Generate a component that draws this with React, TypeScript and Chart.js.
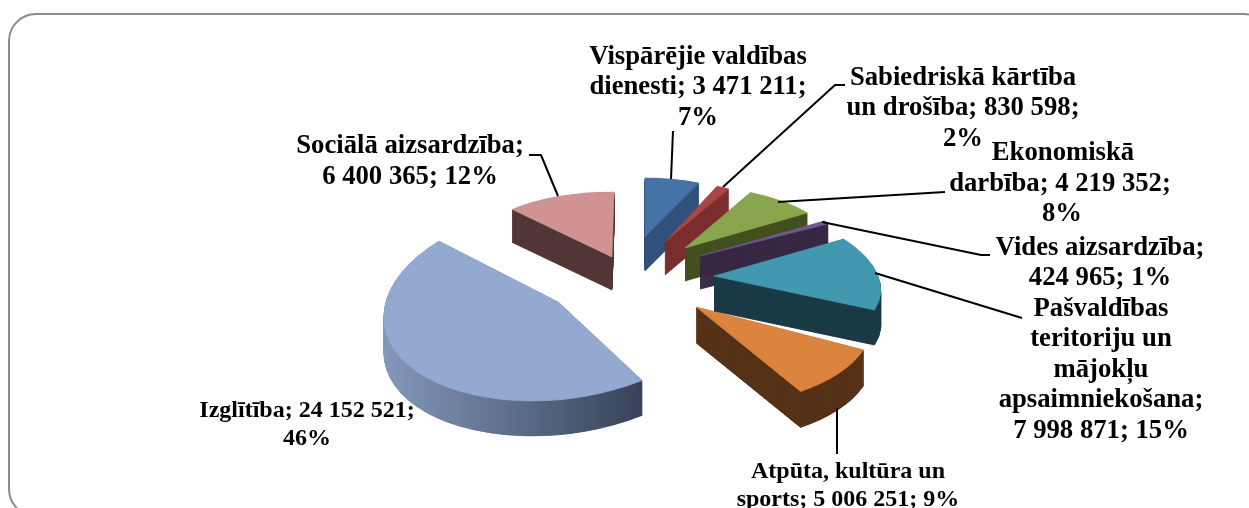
import React, { useEffect, useRef } from "react";
import Chart from "chart.js/auto";

// ---- Data ----
const categories = [
  "Vispārējie valdības dienesti",
  "Sabiedriskā kārtība un drošība",
  "Ekonomiskā darbība",
  "Vides aizsardzība",
  "Pašvaldības teritoriju un mājokļu apsaimniekošana",
  "Atpūta, kultūra un sports",
  "Izglītība",
  "Sociālā aizsardzība",
];
const values = [3471211, 830598, 4219352, 424965, 7998871, 5006251, 24152521, 6400365];

// ---- Styles ----
const topColors = ["#4572A7", "#AA4643", "#89A54E", "#71588F", "#4198AF", "#DB843D", "#93A9CF", "#D19392"];
const wallColors = ["#30527A", "#7A2F2E", "#43501F", "#372844", "#1A3B46", "#573318", "", "#533737"];
// order in which slices are painted, back to front
const paintOrder = [7, 0, 1, 2, 3, 5, 4, 6];

// explode shift of each slice from the pie's centre, in px
const PIE_CX = 640;
const PIE_CY = 270;
const shiftX = [5, 25, 45, 60, 74, 56.5, -82, -28];
const shiftY = [-33, -28, -22, -14, 6, 37, 32, -13];
// projection of each slice's unit circle on the screen [a, b, c, d]
const projection = [
  [133, 0, 0, 59],
  [129, 0, 0, 61],
  [149, 9, -3, 62],
  [146, 0, 0, 67],
  [164, 30, 0, 77],
  [176, 20, 0, 97],
  [174, -2, -14, 98],
  [146, -2, 1, 65],
];
const depth = [34, 33, 33, 33, 35, 36, 35, 33];

const FONT = '"Liberation Serif", "Times New Roman", serif';
type Lbl = { lines: string[]; cx: number; y: number; lh: number; size: number; leader: number[][] };
const labels: Lbl[] = [
  { lines: ["Vispārējie valdības", "dienesti; 3 471 211;", "7%"], cx: 698, y: 57, lh: 30.5, size: 26.7, leader: [[671, 179], [673, 131]] },
  { lines: ["Sabiedriskā kārtība", "un drošība; 830 598;", "2%"], cx: 963, y: 78, lh: 30.5, size: 26.7, leader: [[723, 187], [835, 85], [845, 85]] },
  { lines: ["Ekonomiskā"], cx: 1063, y: 153, lh: 30, size: 26.7, leader: [[778, 202], [945, 192]] },
  { lines: ["darbība; 4 219 352;"], cx: 1060, y: 184, lh: 30, size: 26.7, leader: [] },
  { lines: ["8%"], cx: 1062, y: 214, lh: 30, size: 26.7, leader: [] },
  { lines: ["Vides aizsardzība;", "424 965; 1%"], cx: 1100, y: 248, lh: 30, size: 26.7, leader: [[822, 222], [981, 255], [990, 255]] },
  { lines: ["Pašvaldības", "teritoriju un", "mājokļu", "apsaimniekošana;", "7 998 871; 15%"], cx: 1101, y: 309, lh: 30.5, size: 26.7, leader: [[875, 273], [1022, 318]] },
  { lines: ["Atpūta, kultūra un", "sports; 5 006 251; 9%"], cx: 848, y: 472, lh: 28, size: 24, leader: [[837, 408], [837, 454]] },
  { lines: ["Izglītība; 24 152 521;", "46%"], cx: 307, y: 411, lh: 28, size: 24, leader: [] },
  { lines: ["Sociālā aizsardzība;", "6 400 365; 12%"], cx: 410, y: 146, lh: 31, size: 26.7, leader: [[529, 155], [541, 155], [558, 196]] },
];

const pie3d = {
  id: "pie3d",
  beforeDatasetsDraw(chart: any) {
    const { ctx } = chart;
    const arcs = chart.getDatasetMeta(0).data;
    for (const i of paintOrder) {
      const arc = arcs[i];
      const R = arc.outerRadius;
      const [a, b, c, d] = projection[i];
      const base = arc.options;
      const paint = (dy: number, fill: any) => {
        ctx.save();
        ctx.transform(a / R, c / R, b / R, d / R,
          PIE_CX + shiftX[i] - (a * arc.x + b * arc.y) / R,
          PIE_CY + shiftY[i] + dy - (c * arc.x + d * arc.y) / R);
        arc.options = Object.assign(Object.create(base), { backgroundColor: fill, borderColor: fill, borderWidth: 1.5 });
        arc.draw(ctx);
        ctx.restore();
      };
      let wall: any = wallColors[i];
      if (!wall) {
        const g = ctx.createLinearGradient(arc.x - R, 0, arc.x + 0.5 * R, 0);
        g.addColorStop(0, "#8498BC");
        g.addColorStop(1, "#374257");
        wall = g;
      }
      for (let dy = depth[i]; dy >= 0.5; dy -= 0.5) paint(dy, wall);
      paint(0, topColors[i]);
      arc.options = base;
    }
    return false;
  },
  afterDraw(chart: any) {
    const { ctx } = chart;
    ctx.save();
    ctx.strokeStyle = "#000";
    ctx.lineWidth = 2;
    for (const l of labels) {
      if (l.leader.length) {
        ctx.beginPath();
        l.leader.forEach(([x, y], k) => (k ? ctx.lineTo(x, y) : ctx.moveTo(x, y)));
        ctx.stroke();
      }
    }
    ctx.fillStyle = "#000";
    ctx.textAlign = "center";
    ctx.textBaseline = "middle";
    for (const l of labels) {
      ctx.font = `bold ${l.size}px ${FONT}`;
      l.lines.forEach((t, k) => ctx.fillText(t, l.cx, l.y + k * l.lh));
    }
    ctx.restore();
  },
};

export default function App() {
  const ref = useRef<HTMLCanvasElement>(null);
  useEffect(() => {
    const chart = new Chart(ref.current as HTMLCanvasElement, {
      type: "pie",
      data: {
        labels: categories,
        datasets: [{ data: values, backgroundColor: topColors, borderWidth: 0 }],
      },
      options: {
        responsive: false,
        animation: false,
        layout: { padding: 0 },
        plugins: { legend: { display: false }, tooltip: { enabled: false } },
      },
      plugins: [pie3d],
    } as any);
    return () => chart.destroy();
  }, []);
  return (
    <div style={{ position: "fixed", left: 0, top: 0, width: 1249, height: 508, overflow: "hidden", background: "#fff" }}>
      <div style={{ position: "absolute", left: 8, top: 13, width: 1260, height: 500, border: "2px solid #8C8C8C", borderRadius: 28 }} />
      <canvas ref={ref} width={1249} height={508} style={{ position: "absolute", left: 0, top: 0 }} />
    </div>
  );
}
